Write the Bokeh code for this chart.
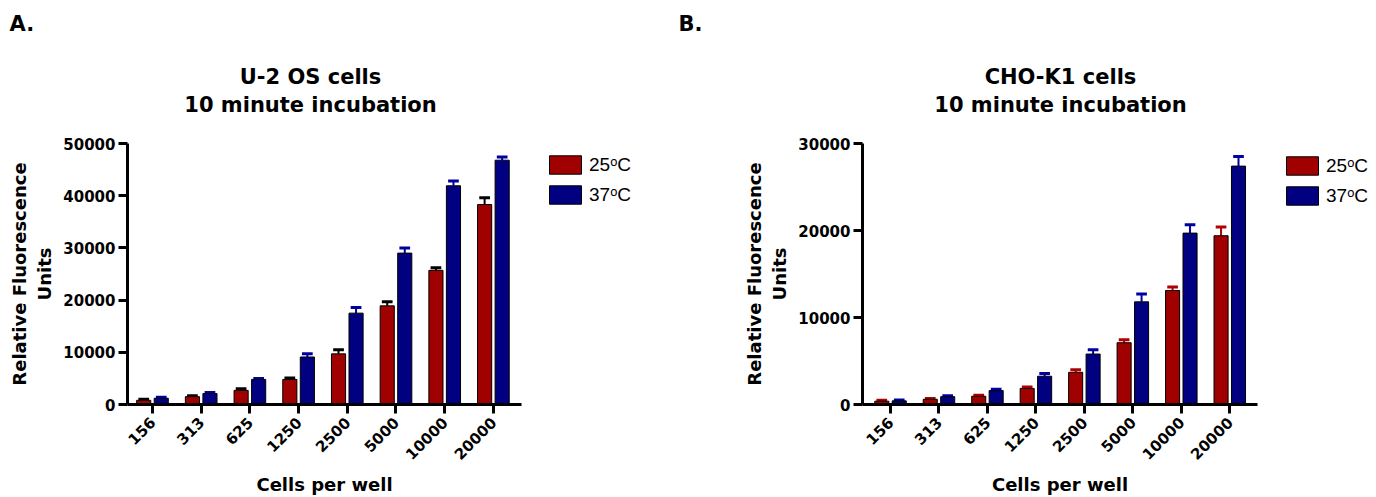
from math import pi
from bokeh.plotting import figure
from bokeh.models import Legend, LegendItem, FixedTicker, Range1d, Label
from bokeh.layouts import row, column
from bokeh.embed import file_html
from bokeh.resources import INLINE

# ---------------- data ----------------
cells = ["156", "313", "625", "1250", "2500", "5000", "10000", "20000"]

u2os_25 = [800, 1500, 2700, 4800, 9700, 18900, 25700, 38300]
u2os_25_err = [200, 200, 300, 300, 800, 800, 500, 1300]
u2os_37 = [1200, 2100, 4800, 9100, 17500, 29000, 41900, 46800]
u2os_37_err = [200, 200, 200, 600, 1100, 1000, 900, 600]

cho_25 = [380, 600, 950, 1850, 3700, 7100, 13100, 19400]
cho_25_err = [100, 100, 100, 150, 300, 350, 400, 1000]
cho_37 = [420, 900, 1600, 3250, 5800, 11800, 19700, 27400]
cho_37_err = [100, 100, 150, 300, 500, 900, 950, 1100]

series_labels = ["25\u1d52C", "37\u1d52C"]
u2os_ticks = [0, 10000, 20000, 30000, 40000, 50000]
cho_ticks = [0, 10000, 20000, 30000]
panel_letters = ["A.", "B."]
titles = [["U-2 OS cells", "10 minute incubation"],
          ["CHO-K1 cells", "10 minute incubation"]]

BFONT = "DejaVu Sans"
RFONT = "Liberation Sans"
RED = "#A00000"
BLUE = "#000080"
HEAD_H = 120
ROW_H = 497 - HEAD_H


def blank(width, height, xr, yr):
    f = figure(width=width, height=height, x_range=xr, y_range=yr,
               output_backend="svg", toolbar_location=None,
               x_axis_location=None, y_axis_location=None, min_border=0)
    f.outline_line_color = None
    f.xgrid.visible = False
    f.ygrid.visible = False
    return f


# ---------------- header with panel letters and titles ----------------
head = blank(1376, HEAD_H, Range1d(0, 1376), Range1d(HEAD_H, 0))
for letter, lx in zip(panel_letters, [9, 678]):
    head.add_layout(Label(x=lx, y=23, text=letter, text_font=BFONT,
                          text_font_size="21px", text_font_style="bold",
                          text_align="left", text_baseline="middle",
                          text_color="black"))
for (t1, t2), cx in zip(titles, [310, 1060]):
    for txt, ty in ((t1, 76), (t2, 104)):
        head.add_layout(Label(x=cx, y=ty, text=txt, text_font=BFONT,
                              text_font_size="21px", text_font_style="bold",
                              text_align="center", text_baseline="middle",
                              text_color="black"))


def chart(width, bl, x0, x1, ymax, yticks, v25, e25, v37, e37, err25_color):
    p = figure(width=width, height=ROW_H, x_range=Range1d(x0, x1),
               y_range=Range1d(0, ymax), output_backend="svg",
               toolbar_location=None, min_border_left=bl,
               min_border_right=10, min_border_top=143 - HEAD_H,
               min_border_bottom=93)
    p.outline_line_color = None
    p.xgrid.visible = False
    p.ygrid.visible = False

    xs = list(range(len(cells)))
    off = 0.18
    w = 0.29
    xr = [x - off for x in xs]
    xb = [x + off for x in xs]

    # error bars (upper only)
    capw = 0.11
    for xx, vv, ee, col in ((xr, v25, e25, err25_color), (xb, v37, e37, "#0000A0")):
        tops = [v + e for v, e in zip(vv, ee)]
        p.segment(x0=xx, y0=vv, x1=xx, y1=tops, line_color=col, line_width=2)
        p.segment(x0=[x - capw for x in xx], y0=tops,
                  x1=[x + capw for x in xx], y1=tops,
                  line_color=col, line_width=3)

    p.vbar(x=xr, top=v25, width=w, bottom=0, fill_color=RED,
           line_color="black", line_width=1)
    p.vbar(x=xb, top=v37, width=w, bottom=0, fill_color=BLUE,
           line_color="black", line_width=1)

    for ax in (p.xaxis[0], p.yaxis[0]):
        ax.axis_line_width = 3
        ax.axis_line_color = "black"
        ax.major_tick_line_width = 3
        ax.major_tick_out = 9
        ax.major_tick_in = 0
        ax.minor_tick_line_color = None
        ax.major_label_text_font = BFONT
        ax.major_label_text_font_style = "bold"
        ax.major_label_text_font_size = "15px"
        ax.major_label_text_color = "black"
        ax.axis_label_text_font = BFONT
        ax.axis_label_text_font_style = "bold"
        ax.axis_label_text_color = "black"
    p.yaxis.ticker = FixedTicker(ticks=yticks)
    p.yaxis.major_label_standoff = 3
    p.yaxis.axis_label = "Relative Fluorescence\nUnits"
    p.yaxis.axis_label_text_font_size = "18px"
    p.yaxis.axis_label_standoff = 5
    p.xaxis.ticker = FixedTicker(ticks=xs)
    p.xaxis.major_label_overrides = {i: c for i, c in enumerate(cells)}
    p.xaxis.major_label_orientation = pi / 4
    p.xaxis.major_label_standoff = 6
    p.xaxis.axis_label = "Cells per well"
    p.xaxis.axis_label_text_font_size = "18px"
    p.xaxis.axis_label_standoff = 6
    return p


def legend_fig(width, loc):
    f = blank(width, ROW_H, Range1d(0, 1), Range1d(0, 1))
    # swatch renderers: one bar each, placed outside the visible range
    r25 = f.vbar(x=[5], top=[5], bottom=[4], width=1, fill_color=RED,
                 line_color="black", line_width=1)
    r37 = f.vbar(x=[5], top=[5], bottom=[4], width=1, fill_color=BLUE,
                 line_color="black", line_width=1)
    leg = Legend(items=[LegendItem(label=series_labels[0], renderers=[r25]),
                        LegendItem(label=series_labels[1], renderers=[r37])],
                 location=loc, glyph_width=40, glyph_height=23,
                 label_text_font=RFONT, label_text_font_size="19px",
                 label_text_color="black", padding=0, spacing=7,
                 label_standoff=4, margin=0, border_line_alpha=0,
                 background_fill_alpha=0, label_height=23)
    f.add_layout(leg)
    return f


# the legend figures' frames are aligned with the chart frames (y 143..404)
left = chart(width=531, bl=127, x0=-0.513, x1=7.577, ymax=50000,
             yticks=u2os_ticks, v25=u2os_25, e25=u2os_25_err, v37=u2os_37,
             e37=u2os_37_err, err25_color="black")
left_leg = legend_fig(139, (14, 404 - 206))

right = chart(width=597, bl=192, x0=-0.578, x1=7.572, ymax=30000,
              yticks=cho_ticks, v25=cho_25, e25=cho_25_err, v37=cho_37,
              e37=cho_37_err, err25_color="#B00000")
right_leg = legend_fig(109, (15, 404 - 207))

layout = column(head, row(left, left_leg, right, right_leg))
open("out.html", "w").write(file_html(layout, INLINE))
